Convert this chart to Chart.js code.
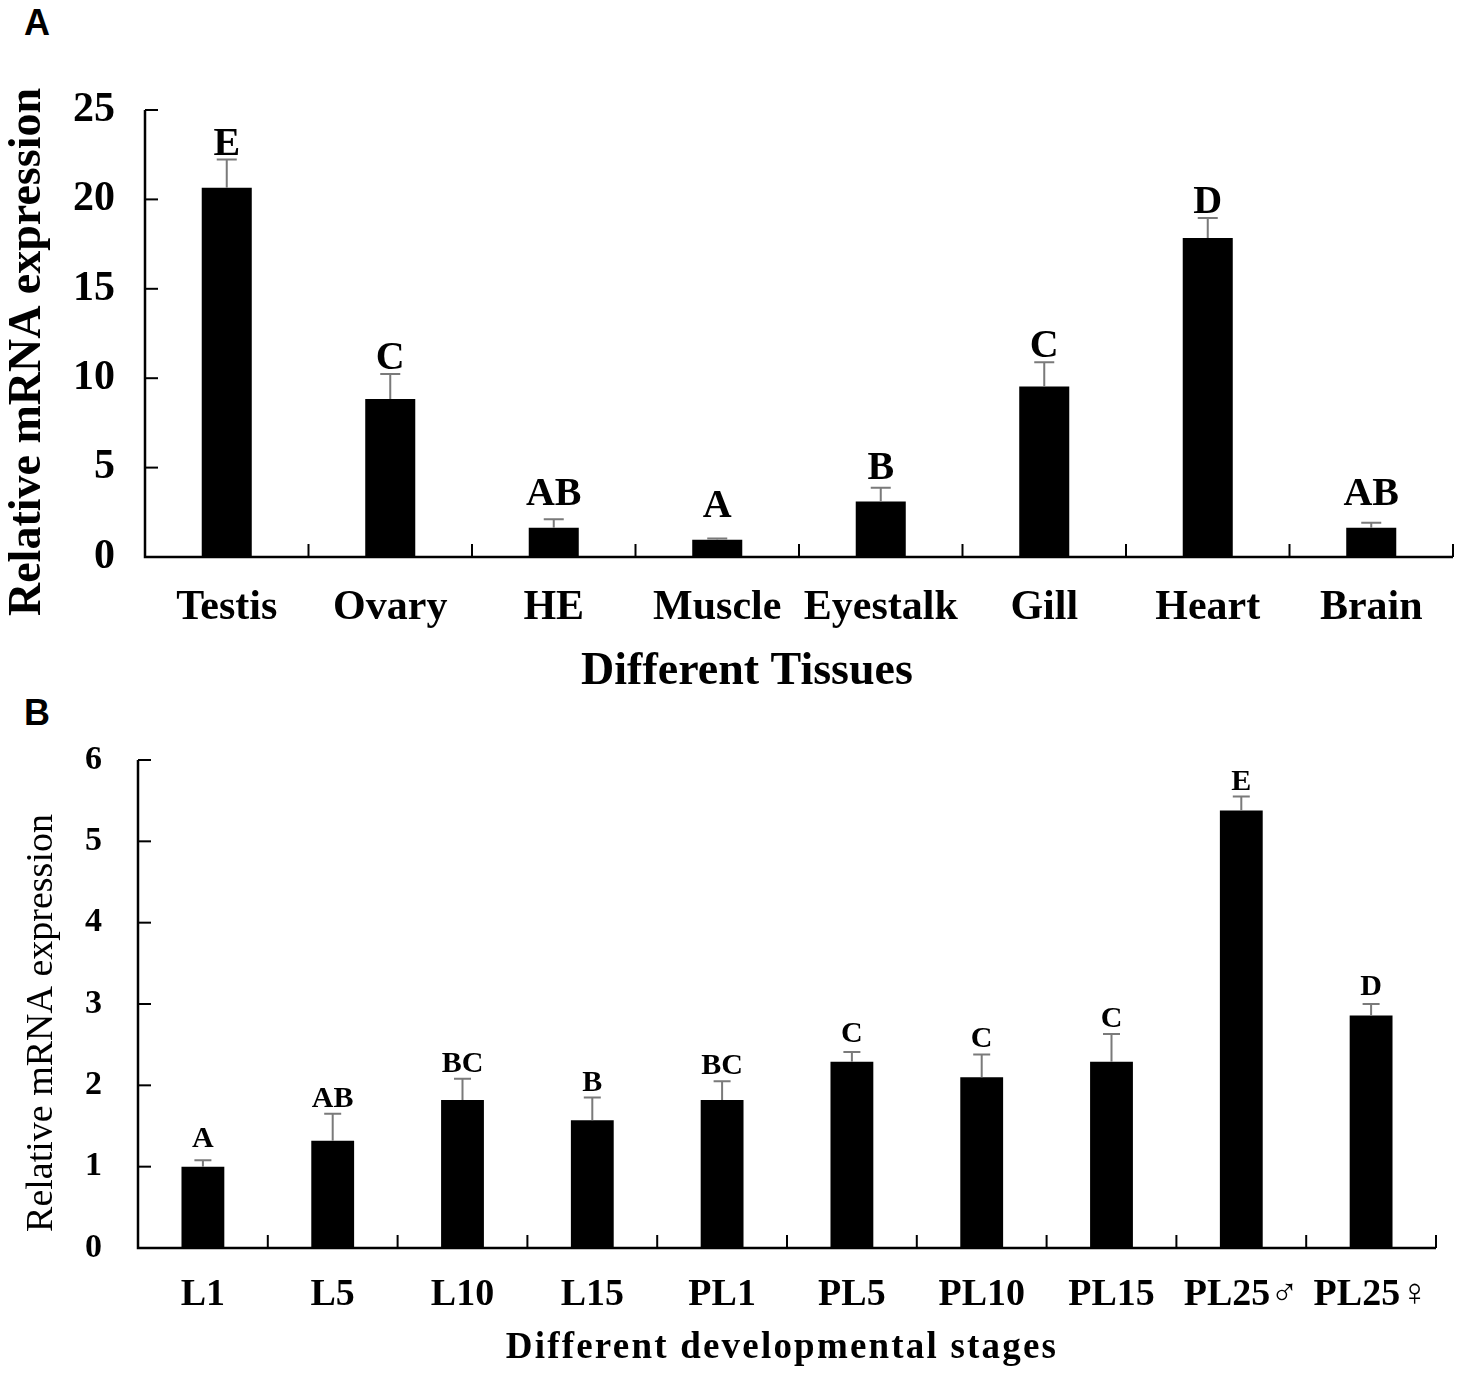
<!DOCTYPE html>
<html>
<head>
<meta charset="utf-8">
<script src="https://cdn.jsdelivr.net/npm/chart.js@4.4.0/dist/chart.umd.min.js"></script>
<style>
  html, body { margin: 0; padding: 0; background: #fff; }
  #wrap { position: relative; width: 1468px; height: 1373px; background: #fff; overflow: hidden; }
  .panel { position: absolute; font-family: 'Liberation Sans', Arial, sans-serif; font-weight: bold; font-size: 36px; color: #000; }
  canvas { position: absolute; left: 0; }
</style>
</head>
<body>
<div id="wrap">
  <div class="panel" style="left:24px;top:2px;">A</div>
  <div class="panel" style="left:24px;top:692px;">B</div>
  <canvas id="cA" width="1468" height="690" style="top:0px;"></canvas>
  <canvas id="cB" width="1468" height="678" style="top:695px;"></canvas>
</div>
<script>
// ---------- Data: panel A ----------
const tissueLabels = ['Testis', 'Ovary', 'HE', 'Muscle', 'Eyestalk', 'Gill', 'Heart', 'Brain'];
const tissueValues = [20.65, 8.84, 1.64, 0.97, 3.10, 9.53, 17.84, 1.64];
const tissueErrors = [1.58, 1.40, 0.47, 0.06, 0.78, 1.36, 1.12, 0.28];
const tissueLetters = ['E', 'C', 'AB', 'A', 'B', 'C', 'D', 'AB'];
const tissueTicks = [0, 5, 10, 15, 20, 25];

// ---------- Data: panel B ----------
const stageLabels = ['L1', 'L5', 'L10', 'L15', 'PL1', 'PL5', 'PL10', 'PL15', 'PL25\u2642', 'PL25\u2640'];
const stageValues = [1.00, 1.32, 1.82, 1.57, 1.82, 2.29, 2.10, 2.29, 5.38, 2.86];
const stageErrors = [0.08, 0.33, 0.26, 0.28, 0.23, 0.12, 0.28, 0.34, 0.17, 0.14];
const stageLetters = ['A', 'AB', 'BC', 'B', 'BC', 'C', 'C', 'C', 'E', 'D'];
const stageTicks = [0, 1, 2, 3, 4, 5, 6];

const yTitleText = 'Relative mRNA expression';
const xTitleA = 'Different Tissues';
const xTitleB = 'Different developmental stages';

const SERIF = "'Liberation Serif', 'Times New Roman', serif";

function decorPlugin(cfg) {
  return {
    id: 'decor',
    afterDatasetsDraw(chart) {
      const ctx = chart.ctx;
      const xs = chart.scales.x, ys = chart.scales.y;
      const area = chart.chartArea;
      const ds = chart.data.datasets[0];
      ctx.save();
      // axes
      ctx.strokeStyle = '#000';
      ctx.lineWidth = 2.5;
      ctx.beginPath();
      ctx.moveTo(area.left, ys.getPixelForValue(cfg.max));
      ctx.lineTo(area.left, ys.getPixelForValue(0));
      ctx.lineTo(area.right, ys.getPixelForValue(0));
      ctx.stroke();
      // y ticks (inward)
      ctx.lineWidth = 2;
      cfg.ticks.forEach(v => {
        const y = ys.getPixelForValue(v);
        ctx.beginPath();
        ctx.moveTo(area.left, y);
        ctx.lineTo(area.left + cfg.tickLen, y);
        ctx.stroke();
      });
      // x ticks at category boundaries (inward)
      const n = chart.data.labels.length;
      const y0 = ys.getPixelForValue(0);
      for (let i = 1; i <= n; i++) {
        const x = i < n ? (xs.getPixelForValue(i - 1) + xs.getPixelForValue(i)) / 2 : area.right;
        ctx.beginPath();
        ctx.moveTo(x, y0);
        ctx.lineTo(x, y0 - cfg.tickLen);
        ctx.stroke();
      }
      // error bars + letters
      ds.data.forEach((v, i) => {
        const x = xs.getPixelForValue(i);
        const yTop = ys.getPixelForValue(v);
        const yErr = ys.getPixelForValue(v + cfg.errors[i]);
        ctx.strokeStyle = '#7a7a7a';
        ctx.lineWidth = 2;
        ctx.beginPath();
        ctx.moveTo(x, yTop);
        ctx.lineTo(x, yErr);
        ctx.moveTo(x - cfg.capW / 2, yErr);
        ctx.lineTo(x + cfg.capW / 2, yErr);
        ctx.stroke();
        ctx.fillStyle = '#000';
        ctx.font = 'bold ' + cfg.letterSize + 'px ' + SERIF;
        ctx.textAlign = 'center';
        ctx.textBaseline = 'alphabetic';
        const yl = Math.min(yErr - cfg.letterGap, yTop - cfg.barGap);
        ctx.fillText(cfg.letters[i], x, yl);
      });
      // axis titles
      ctx.fillStyle = '#000';
      ctx.textAlign = 'center';
      ctx.textBaseline = 'middle';
      cfg.titles.forEach(t => {
        ctx.save();
        ctx.font = t.font;
        if ('letterSpacing' in ctx) ctx.letterSpacing = (t.spacing || 0) + 'px';
        ctx.translate(t.x, t.y);
        if (t.rot) ctx.rotate(t.rot);
        ctx.fillText(t.text, 0, 0);
        ctx.restore();
      });
      ctx.restore();
    }
  };
}

function makeChart(id, o) {
  return new Chart(document.getElementById(id), {
    type: 'bar',
    data: {
      labels: o.labels,
      datasets: [{
        data: o.values,
        backgroundColor: '#000',
        borderWidth: 0,
        barPercentage: o.barPct,
        categoryPercentage: 1.0
      }]
    },
    options: {
      responsive: false,
      animation: false,
      devicePixelRatio: 1,
      events: [],
      layout: { padding: o.padding },
      plugins: { legend: { display: false }, tooltip: { enabled: false } },
      scales: {
        x: {
          offset: true,
          grid: { display: false, drawTicks: false },
          border: { display: false },
          ticks: {
            color: '#000', autoSkip: false, maxRotation: 0, minRotation: 0,
            padding: o.xTickPad,
            font: { family: SERIF, weight: 'bold', size: o.xTickSize }
          },
          title: { display: false },
          afterFit: s => { s.height = o.xHeight; }
        },
        y: {
          min: 0, max: o.max,
          afterBuildTicks: s => { s.ticks = o.ticks.map(v => ({ value: v })); },
          grid: { display: false, drawTicks: false },
          border: { display: false },
          ticks: {
            color: '#000', padding: o.yTickPad,
            font: { family: SERIF, weight: 'bold', size: o.yTickSize }
          },
          title: { display: false },
          afterFit: s => { s.width = o.yWidth; }
        }
      }
    },
    plugins: [decorPlugin({
      max: o.max, ticks: o.ticks, errors: o.errors, letters: o.letters,
      tickLen: 13, capW: o.capW, letterSize: o.letterSize, letterGap: o.letterGap, barGap: o.barGap,
      titles: o.titles
    })]
  });
}

makeChart('cA', {
  labels: tissueLabels, values: tissueValues, errors: tissueErrors, letters: tissueLetters,
  ticks: tissueTicks, max: 25, barPct: 0.306,
  padding: { top: 110, right: 15, left: 0, bottom: 0 },
  xHeight: 133, yWidth: 145,
  xTickPad: 26, xTickSize: 42,
  yTickPad: 30, yTickSize: 42,
  capW: 20, letterSize: 40, letterGap: 5, barGap: 23,
  titles: [
    { text: xTitleA, x: 747, y: 672, font: 'bold 46px ' + SERIF },
    { text: yTitleText, x: 28, y: 352, rot: -Math.PI / 2, font: 'bold 46px ' + SERIF }
  ]
});

makeChart('cB', {
  labels: stageLabels, values: stageValues, errors: stageErrors, letters: stageLetters,
  ticks: stageTicks, max: 6, barPct: 0.33,
  padding: { top: 65, right: 32, left: 0, bottom: 0 },
  xHeight: 125, yWidth: 138,
  xTickPad: 24, xTickSize: 38,
  yTickPad: 36, yTickSize: 34,
  capW: 17, letterSize: 30, letterGap: 7, barGap: 20,
  titles: [
    { text: xTitleB, x: 782, y: 653, font: 'bold 37px ' + SERIF, spacing: 2.2 },
    { text: yTitleText, x: 42, y: 328, rot: -Math.PI / 2, font: '38px ' + SERIF }
  ]
});
</script>
</body>
</html>
